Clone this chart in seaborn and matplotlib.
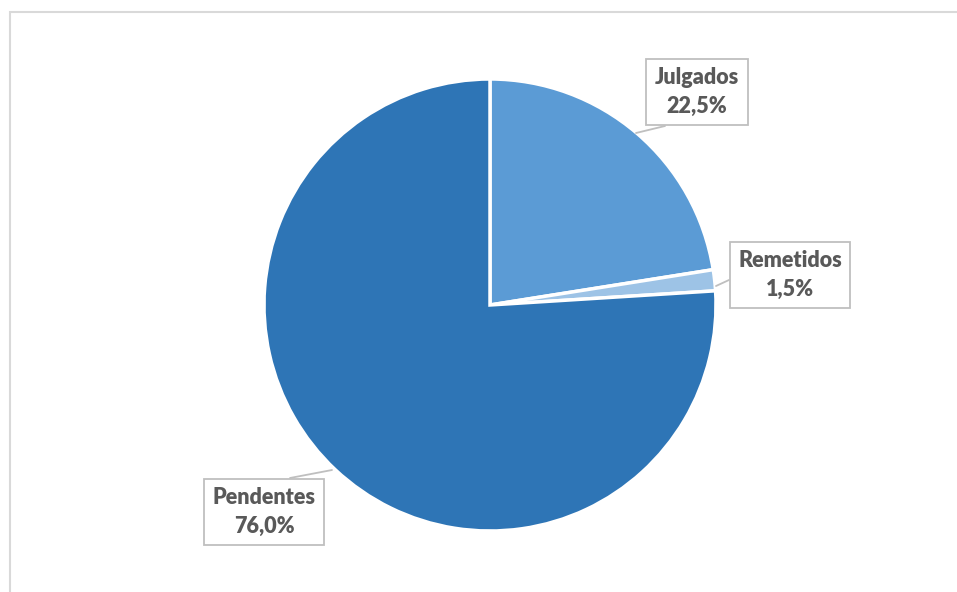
import matplotlib
matplotlib.use("Agg")
import matplotlib.pyplot as plt
import seaborn as sns
from matplotlib.patches import Rectangle

# Situação dos processos
categorias = ["Julgados", "Remetidos", "Pendentes"]
percentuais = [22.5, 1.5, 76.0]
cores = ["#5B9BD5", "#9DC3E6", "#2E75B6"]

sns.set_theme(style="white")
plt.rcParams["font.family"] = ["Lato", "DejaVu Sans"]

W, H = 957, 592
fig = plt.figure(figsize=(W / 100, H / 100), dpi=100)
ax = fig.add_axes([0, 0, 1, 1])

# moldura do gráfico
ax.add_patch(Rectangle((9.5, -20), W + 40, H - 11.5 + 20, fill=False,
                       edgecolor="#D9D9D9", linewidth=1.5))

cx, cy, r = 490, H - 305, 226
ax.pie(percentuais, colors=cores, startangle=90, counterclock=False,
       center=(cx, cy), radius=r, frame=True,
       wedgeprops=dict(edgecolor="white", linewidth=2.5))
ax.set_xlim(0, W)
ax.set_ylim(0, H)
ax.set_aspect("equal")
ax.axis("off")

# rótulos com caixa e linha de chamada
rotulos = {
    "Julgados": dict(pos=(697, H - 92), ponta=(636, H - 133), base=(665, H - 126)),
    "Remetidos": dict(pos=(790, H - 275), ponta=(716, H - 286), base=(729, H - 280)),
    "Pendentes": dict(pos=(264, H - 512), ponta=(332, H - 470), base=(290, H - 478)),
}
for nome, val in zip(categorias, percentuais):
    info = rotulos[nome]
    (px, py), (bx, by) = info["ponta"], info["base"]
    ax.plot([px, bx], [py, by], color="#BFBFBF", linewidth=1.3, zorder=3)
    texto = f"{nome}\n{val:.1f}%".replace(".", ",")
    ax.text(*info["pos"], texto, ha="center", va="center", fontsize=15.5,
            fontweight="heavy", color="#595959", linespacing=1.45, zorder=4,
            bbox=dict(boxstyle="square,pad=0.4", facecolor="white",
                      edgecolor="#BFBFBF", linewidth=1.3))

fig.savefig("out.png", dpi=100, facecolor="white")
